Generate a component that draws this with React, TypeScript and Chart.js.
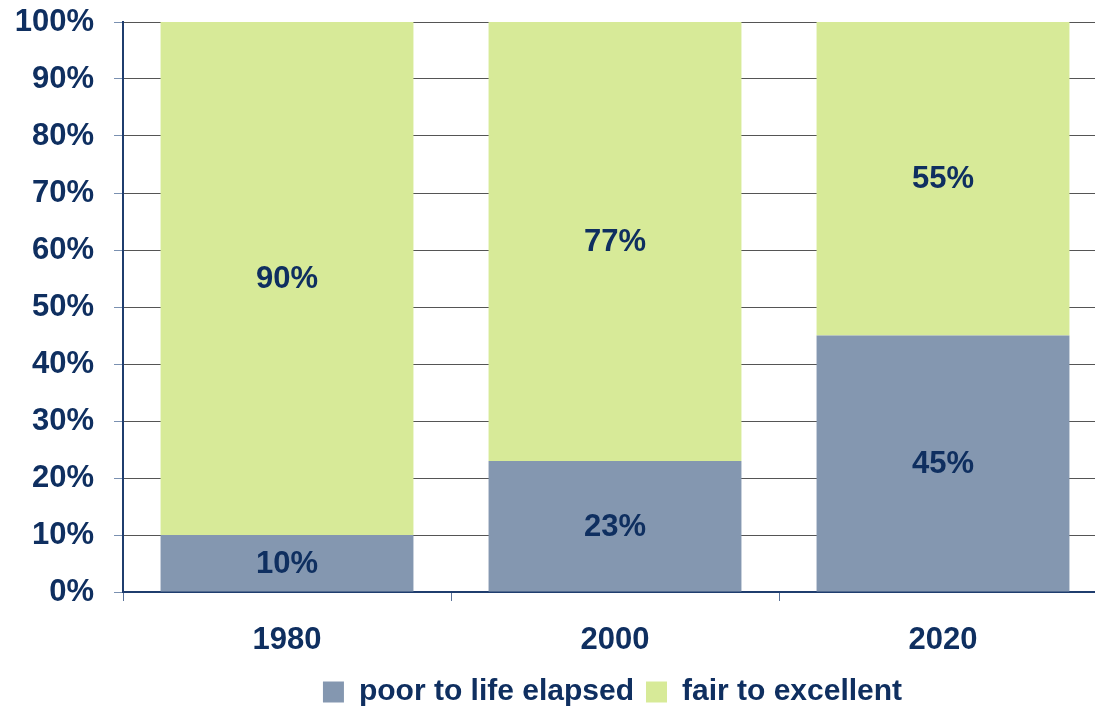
import React, { useEffect, useRef } from "react";
import { Chart, registerables } from "chart.js";

Chart.register(...registerables);

const categories = ["1980", "2000", "2020"];
const poorValues = [10, 23, 45];
const fairValues = [90, 77, 55];
const seriesNames = ["poor to life elapsed", "fair to excellent"];
const yTicks = [0, 10, 20, 30, 40, 50, 60, 70, 80, 90, 100];

const NAVY = "#0f2f60";
const FONT = "'Liberation Sans', Arial, sans-serif";

const barLabels = {
  id: "barLabels",
  afterDatasetsDraw(chart: any) {
    const ctx = chart.ctx;
    ctx.save();
    ctx.font = `bold 31px ${FONT}`;
    ctx.fillStyle = NAVY;
    ctx.textAlign = "center";
    ctx.textBaseline = "middle";
    chart.data.datasets.forEach((ds: any, di: number) => {
      const meta = chart.getDatasetMeta(di);
      meta.data.forEach((el: any, i: number) => {
        const v = ds.data[i];
        const y = (el.y + el.base) / 2;
        ctx.fillText(`${v}%`, el.x, y + 1);
      });
    });
    ctx.restore();
  },
};

// center the legend under the plot area rather than the whole canvas
const legendShift = {
  id: "legendShift",
  afterLayout(chart: any) {
    if (chart.legend) {
      chart.legend.left = chart.chartArea.left - 5;
    }
  },
};

export default function App() {
  const ref = useRef<HTMLCanvasElement | null>(null);
  useEffect(() => {
    if (!ref.current) return;
    const chart = new Chart(ref.current, {
      type: "bar",
      data: {
        labels: categories,
        datasets: [
          {
            label: seriesNames[0],
            data: poorValues,
            backgroundColor: "#8497b0",
            barPercentage: 0.771,
            categoryPercentage: 1,
          },
          {
            label: seriesNames[1],
            data: fairValues,
            backgroundColor: "#d7ea98",
            barPercentage: 0.771,
            categoryPercentage: 1,
          },
        ],
      },
      options: {
        responsive: false,
        animation: false,
        layout: { padding: { top: 22, right: 3, left: 0, bottom: 0 } },
        plugins: {
          tooltip: { enabled: false },
          legend: {
            position: "bottom",
            labels: {
              boxWidth: 21,
              boxHeight: 21,
              padding: 12,
              color: NAVY,
              font: { family: FONT, size: 30, weight: "bold" },
            },
          },
        },
        scales: {
          x: {
            stacked: true,
            grid: {
              display: true,
              drawOnChartArea: false,
              drawTicks: true,
              tickLength: 9,
              tickColor: "#5a7299",
              offset: true,
            },
            border: { color: "#1f3d6e", width: 2 },
            ticks: {
              color: NAVY,
              padding: 21,
              font: { family: FONT, size: 31, weight: "bold" },
            },
            afterFit: (scale: any) => {
              scale.height = 73;
              scale.paddingLeft = 0;
              scale.paddingRight = 0;
            },
          },
          y: {
            stacked: true,
            min: 0,
            max: 100,
            afterBuildTicks: (scale: any) => {
              scale.ticks = yTicks.map((v) => ({ value: v }));
            },
            grid: {
              color: "#555555",
              tickLength: 9,
              tickColor: "#7a90b0",
            },
            border: { color: "#1f3d6e", width: 2 },
            ticks: {
              color: NAVY,
              padding: 20,
              font: { family: FONT, size: 31, weight: "bold" },
              callback: (v: any) => `${v}%`,
            },
            afterFit: (scale: any) => {
              scale.width = 123;
              scale.paddingTop = 0;
              scale.paddingBottom = 0;
            },
          },
        },
      },
      plugins: [barLabels, legendShift],
    });
    return () => chart.destroy();
  }, []);
  return (
    <div style={{ position: "fixed", left: 0, top: 0, width: 1110, height: 717, background: "#fff" }}>
      <canvas ref={ref} width={1110} height={717} />
    </div>
  );
}
